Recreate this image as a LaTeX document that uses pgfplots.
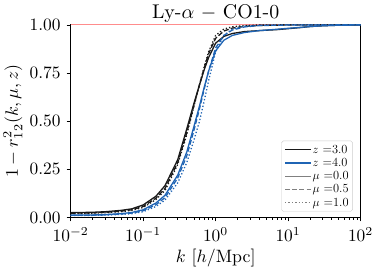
\documentclass[border=0pt]{standalone}
\usepackage{pgfplots}
\usepackage{graphicx}
\pgfplotsset{compat=1.18}
\definecolor{zblue}{RGB}{31,100,180}
\definecolor{zblack}{RGB}{25,25,25}
\begin{document}
\begin{tikzpicture}
\begin{axis}[
  name=main,
  scale only axis,
  width=292pt, height=194pt,
  xmode=log, xmin=1e-2, xmax=1e2,
  ymin=0, ymax=1,
  ytick={0,0.25,0.5,0.75,1},
  yticklabels={0.00,0.25,0.50,0.75,1.00},
  xtick={1e-2,1e-1,1e0,1e1,1e2},
  tick align=outside,
  xtick pos=bottom, ytick pos=left,
  major tick length=4pt, minor tick length=2.5pt,
  tick style={black, line width=0.6pt},
  axis line style={line width=0.9pt},
  ticklabel style={font=\fontsize{10}{12}\selectfont, scale=1.75},
  xlabel={\fontsize{10}{12}\selectfont\scalebox{1.8}{$k$ [$h$/Mpc]}},
  ylabel={\fontsize{10}{12}\selectfont\scalebox{1.8}{$1-r^2_{12}(k,\mu,z)$}},
  ylabel style={yshift=-2pt},
  xlabel style={yshift=2pt},
  legend style={at={(0.973,0.03)}, anchor=south east, font=\fontsize{12.5}{14}\selectfont,
    draw=black!20, rounded corners=2pt, fill=white, fill opacity=0.8, text opacity=1,
    row sep=1.5pt, inner sep=3pt, nodes={inner sep=1pt}},
  legend cell align=left,
  legend image code/.code={\draw[#1] (0pt,0pt) -- (26pt,0pt);},
  clip=false,
]
\addplot[red!45, line width=0.8pt, forget plot] coordinates {(1e-2,1) (1e2,1)};
% z=3, mu=0
\addplot[zblack, line width=1.3pt, forget plot] coordinates {
(0.01,0.025) (0.02,0.027) (0.03,0.030) (0.05,0.037) (0.07,0.045) (0.1,0.065) (0.15,0.11) (0.2,0.165) (0.3,0.30) (0.4,0.46) (0.5,0.59) (0.6,0.69) (0.7,0.77) (0.8,0.83) (1.0,0.905) (1.3,0.94) (1.7,0.955) (2.5,0.965) (4,0.97) (7,0.975) (10,0.98) (15,0.986) (20,0.991) (30,0.995) (50,0.998) (100,0.999)};
% z=3, mu=0.5
\addplot[zblack, line width=1.3pt, dash pattern=on 5pt off 2.2pt, forget plot] coordinates {
(0.01,0.022) (0.02,0.024) (0.03,0.027) (0.05,0.033) (0.07,0.040) (0.1,0.057) (0.15,0.10) (0.2,0.15) (0.3,0.285) (0.4,0.44) (0.5,0.58) (0.6,0.69) (0.7,0.78) (0.8,0.85) (1.0,0.93) (1.3,0.968) (1.7,0.983) (2.5,0.992) (4,0.997) (10,0.999) (100,1.0)};
% z=3, mu=1.0
\addplot[zblack, line width=1.3pt, dash pattern=on 1.3pt off 2.1pt, forget plot] coordinates {
(0.01,0.020) (0.02,0.022) (0.03,0.025) (0.05,0.030) (0.07,0.037) (0.1,0.052) (0.15,0.093) (0.2,0.14) (0.3,0.275) (0.4,0.43) (0.5,0.575) (0.6,0.69) (0.7,0.785) (0.8,0.86) (1.0,0.945) (1.3,0.978) (1.7,0.99) (2.5,0.996) (4,0.999) (10,1.0) (100,1.0)};
% z=4, mu=0
\addplot[zblue, line width=1.3pt, forget plot] coordinates {
(0.01,0.012) (0.02,0.013) (0.03,0.015) (0.05,0.020) (0.07,0.026) (0.1,0.040) (0.15,0.075) (0.2,0.115) (0.3,0.22) (0.4,0.34) (0.5,0.47) (0.6,0.58) (0.7,0.68) (0.8,0.76) (1.0,0.865) (1.3,0.92) (1.7,0.945) (2.5,0.96) (4,0.97) (7,0.977) (10,0.982) (15,0.987) (20,0.991) (30,0.995) (50,0.998) (100,0.999)};
% z=4, mu=0.5
\addplot[zblue, line width=1.3pt, dash pattern=on 5pt off 2.2pt, forget plot] coordinates {
(0.01,0.011) (0.02,0.012) (0.03,0.014) (0.05,0.018) (0.07,0.023) (0.1,0.035) (0.15,0.066) (0.2,0.103) (0.3,0.205) (0.4,0.32) (0.5,0.45) (0.6,0.565) (0.7,0.67) (0.8,0.76) (1.0,0.88) (1.3,0.945) (1.7,0.973) (2.5,0.989) (4,0.996) (10,0.999) (100,1.0)};
% z=4, mu=1.0
\addplot[zblue, line width=1.3pt, dash pattern=on 1.3pt off 2.1pt, forget plot] coordinates {
(0.01,0.010) (0.02,0.011) (0.03,0.012) (0.05,0.016) (0.07,0.020) (0.1,0.030) (0.15,0.057) (0.2,0.090) (0.3,0.18) (0.4,0.285) (0.5,0.40) (0.6,0.50) (0.7,0.61) (0.8,0.71) (1.0,0.86) (1.3,0.945) (1.7,0.978) (2.5,0.993) (4,0.998) (10,1.0) (100,1.0)};
\addlegendimage{zblack, line width=1.3pt}
\addlegendentry{$z$ =3.0}
\addlegendimage{zblue, line width=1.3pt}
\addlegendentry{$z$ =4.0}
\addlegendimage{gray, line width=1.3pt}
\addlegendentry{$\mu$ =0.0}
\addlegendimage{gray, line width=1.3pt, dash pattern=on 5pt off 2.2pt}
\addlegendentry{$\mu$ =0.5}
\addlegendimage{gray, line width=1.3pt, dash pattern=on 1.3pt off 2.1pt}
\addlegendentry{$\mu$ =1.0}
\end{axis}
\node[anchor=base, inner sep=0pt] at ([yshift=6pt]main.north) {\fontsize{10}{12}\selectfont\scalebox{2.0}{Ly-$\alpha$ $-$ CO1-0}};
\path ([yshift=25pt]main.north) -- (main.north);
\end{tikzpicture}
\end{document}
